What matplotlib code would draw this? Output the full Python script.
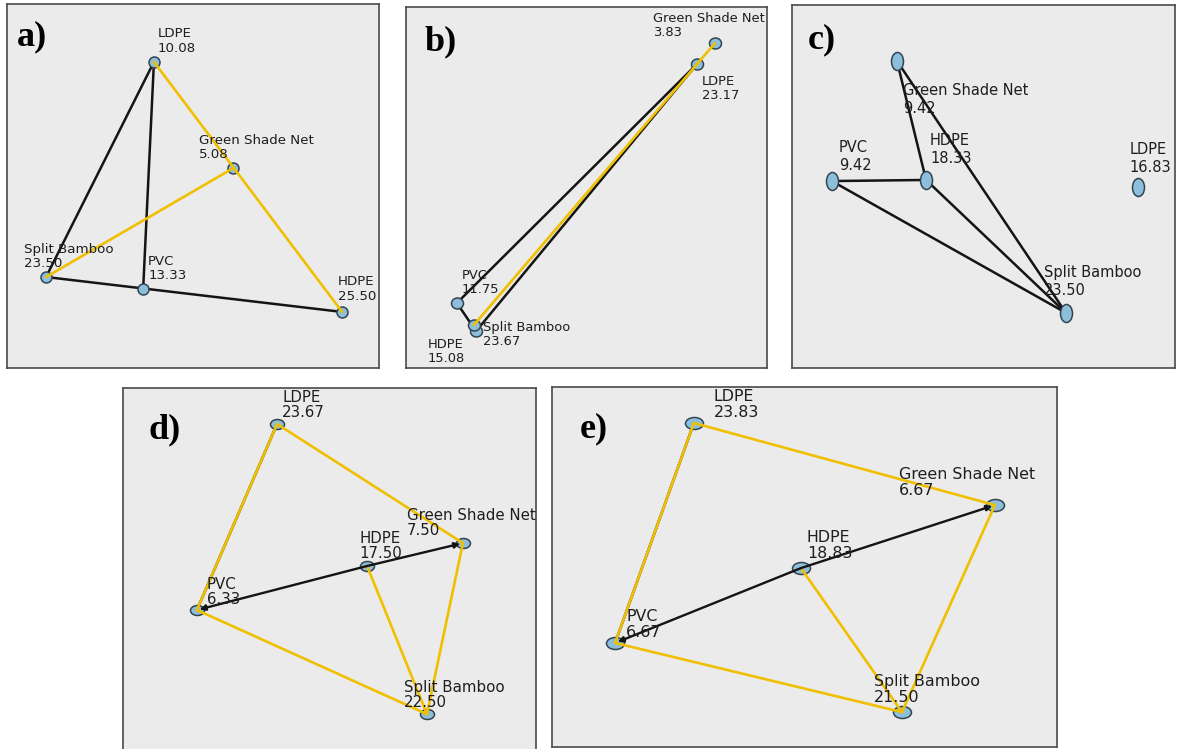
"""Five material-network panels (a-e) drawn on a shared canvas."""
import matplotlib

matplotlib.use("Agg")
import matplotlib.pyplot as plt
from matplotlib import font_manager
from matplotlib.markers import MarkerStyle
from matplotlib.path import Path
from matplotlib.transforms import Affine2D

FIG_W, FIG_H = 1177, 749

materials = ["LDPE", "HDPE", "PVC", "Green Shade Net", "Split Bamboo"]

# node positions on each map (0-100 panel units) and the score shown under each name
a_x = [39.5, 90.1, 36.6, 60.8, 10.5]
a_y = [84.1, 15.4, 21.7, 54.9, 25.0]
a_values = [10.08, 25.50, 13.33, 5.08, 23.50]

b_x = [80.6, 19.4, 14.1, 85.6, 18.8]
b_y = [84.2, 10.2, 18.0, 90.0, 11.9]
b_values = [23.17, 15.08, 11.75, 3.83, 23.67]

c_x = [90.3, 35.0, 10.4, 27.4, 71.5]
c_y = [49.9, 51.8, 51.5, 84.6, 15.2]
c_values = [16.83, 18.33, 9.42, 9.42, 23.50]

d_x = [37.3, 59.1, 17.9, 82.3, 73.6]
d_y = [90.1, 51.1, 39.0, 57.4, 10.4]
d_values = [23.67, 17.50, 6.33, 7.50, 22.50]

e_x = [28.1, 49.3, 12.5, 87.7, 69.3]
e_y = [90.0, 49.7, 28.9, 67.2, 9.7]
e_values = [23.83, 18.83, 6.67, 6.67, 21.50]

# links between materials
a_black = [("LDPE", "Split Bamboo"), ("LDPE", "PVC"), ("Split Bamboo", "HDPE")]
a_yellow = [("LDPE", "HDPE"), ("Green Shade Net", "Split Bamboo")]
a_arrows = []

b_black = [("LDPE", "PVC"), ("PVC", "HDPE"), ("LDPE", "HDPE")]
b_yellow = [("Green Shade Net", "Split Bamboo")]
b_arrows = []

c_black = [("Green Shade Net", "HDPE"), ("Green Shade Net", "Split Bamboo"),
           ("PVC", "HDPE"), ("PVC", "Split Bamboo"), ("HDPE", "Split Bamboo")]
c_yellow = []
c_arrows = []

de_black = [("LDPE", "PVC")]
de_yellow = [("LDPE", "PVC"), ("LDPE", "Green Shade Net"), ("Green Shade Net", "Split Bamboo"),
             ("HDPE", "Split Bamboo"), ("PVC", "Split Bamboo")]
# directed links, head at the second material
de_arrows = [("HDPE", "PVC"), ("HDPE", "Green Shade Net")]

BLACK = "#141414"
YELLOW = "#f0c000"
NODE_FILL = "#8dbfdc"
NODE_EDGE = "#34444f"
PANEL_BG = "#ebebeb"
TEXT = "#1e1e1e"


def has_font(name):
    try:
        font_manager.findfont(font_manager.FontProperties(family=name),
                              fallback_to_default=False)
        return True
    except ValueError:
        return False


narrow = next((f for f in ["Liberation Sans Narrow", "DejaVu Sans Condensed"] if has_font(f)), None)

panels = [
    dict(label="a)", box=(7, 4, 379, 368), x=a_x, y=a_y, vals=a_values,
         black=a_black, yellow=a_yellow, arrows=a_arrows, node=(11, 11),
         font=("DejaVu Sans", 9.6, 1.15),
         offsets=[(4, 10), (-4, 12), (5, 10), (-34, 10), (-22, 10)], tag=(10, 41)),
    dict(label="b)", box=(406, 7, 767, 368), x=b_x, y=b_y, vals=b_values,
         black=b_black, yellow=b_yellow, arrows=b_arrows, node=(12, 11),
         font=("DejaVu Sans", 9.4, 1.15),
         offsets=[(5, -35), (-48, -31), (5, 10), (-62, 7), (9, -20)], tag=(19, 43)),
    dict(label="c)", box=(792, 5, 1175, 368), x=c_x, y=c_y, vals=c_values,
         black=c_black, yellow=c_yellow, arrows=c_arrows, node=(12, 18),
         font=(narrow, 13.5, 1.1) if narrow else ("DejaVu Sans", 10.5, 1.25),
         offsets=[(-8, 15), (4, 17), (7, 11), (6, -52), (-22, 18)], tag=(16, 43)),
    dict(label="d)", box=(123, 388, 536, 752), x=d_x, y=d_y, vals=d_values,
         black=de_black, yellow=de_yellow, arrows=de_arrows, node=(14, 10),
         font=("DejaVu Sans", 10.8, 1.0),
         offsets=[(5, 7), (-8, 8), (10, 6), (-56, 8), (-23, 7)], tag=(25, 50)),
    dict(label="e)", box=(552, 387, 1057, 747), x=e_x, y=e_y, vals=e_values,
         black=de_black, yellow=de_yellow, arrows=de_arrows, node=(18, 12),
         font=("DejaVu Sans", 11.4, 1.05),
         offsets=[(20, 6), (6, 10), (11, 6), (-96, 10), (-28, 10)], tag=(28, 50)),
]


def draw_panel(fig, p):
    left, top, right, bottom = p["box"]
    ax = fig.add_axes([left / FIG_W, 1 - bottom / FIG_H,
                       (right - left) / FIG_W, (bottom - top) / FIG_H])
    ax.set_xlim(0, 100)
    ax.set_ylim(0, 100)
    ax.set_facecolor(PANEL_BG)
    ax.set_xticks([])
    ax.set_yticks([])
    for spine in ax.spines.values():
        spine.set_color("#4a4a4a")
        spine.set_linewidth(1.2)

    idx = {m: i for i, m in enumerate(materials)}
    xs, ys = p["x"], p["y"]
    for a, b in p["black"]:
        ax.plot([xs[idx[a]], xs[idx[b]]], [ys[idx[a]], ys[idx[b]]],
                color=BLACK, lw=1.8, solid_capstyle="round", zorder=2)
    for a, b in p["yellow"]:
        ax.plot([xs[idx[a]], xs[idx[b]]], [ys[idx[a]], ys[idx[b]]],
                color=YELLOW, lw=1.9, solid_capstyle="round", zorder=3)
    for a, b in p["arrows"]:
        ax.annotate("", xy=(xs[idx[b]], ys[idx[b]]), xytext=(xs[idx[a]], ys[idx[a]]),
                    arrowprops=dict(arrowstyle="-|>", color=BLACK, lw=1.7,
                                    mutation_scale=8, shrinkA=0, shrinkB=2),
                    zorder=3)

    w, h = p["node"]
    marker = MarkerStyle(Path.unit_circle().transformed(Affine2D().scale(w, h)))
    size = max(w, h) * 0.72
    ax.scatter(xs, ys, s=size ** 2, marker=marker, facecolor=NODE_FILL,
               edgecolor=NODE_EDGE, linewidth=1.1, zorder=2.5)

    family, fsize, spacing = p["font"]
    for i, name in enumerate(materials):
        dx, dy = p["offsets"][i]
        ax.annotate(f"{name}\n{p['vals'][i]:.2f}", (xs[i], ys[i]),
                    xytext=(dx, dy - 3), textcoords="offset pixels",
                    ha="left", va="bottom", fontsize=fsize, family=family,
                    color=TEXT, linespacing=spacing, clip_on=True, zorder=5)

    tx, ty = p["tag"]
    ax.annotate(p["label"], (0, 1), xycoords="axes fraction",
                xytext=(tx, -ty), textcoords="offset pixels",
                ha="left", va="baseline", fontsize=26, fontweight="bold",
                family="Liberation Serif", color="black", zorder=6)
    return ax


fig = plt.figure(figsize=(FIG_W / 100, FIG_H / 100), dpi=100)
fig.patch.set_facecolor("white")
for panel in panels:
    draw_panel(fig, panel)

fig.savefig("out.png", dpi=100)
